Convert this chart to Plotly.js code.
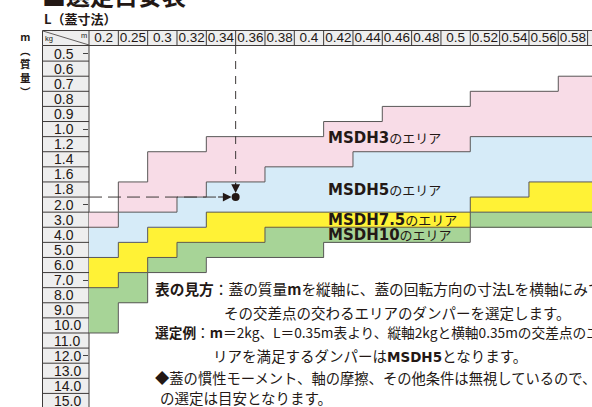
<!DOCTYPE html>
<html>
<head>
<meta charset="utf-8">
<script src="https://cdn.plot.ly/plotly-3.0.1.min.js"></script>
<style>
  body { margin: 0; background: #fff; }
  #plotArea { width: 592px; height: 407px; }
</style>
</head>
<body>
<div id="plotArea"></div>
<script>
// columns: lid size L (m), rows: lid mass m (kg)
var lengths = ['0.2', '0.25', '0.3', '0.32', '0.34', '0.36', '0.38', '0.4', '0.42', '0.44', '0.46', '0.48', '0.5', '0.52', '0.54', '0.56', '0.58', '0.6'];
var masses = ['0.5', '0.6', '0.7', '0.8', '0.9', '1.0', '1.2', '1.4', '1.6', '1.8', '2.0', '3.0', '4.0', '5.0', '6.0', '7.0', '8.0', '9.0', '10.0', '11.0', '12.0', '13.0', '14.0', '15.0'];

// lightest mass row where each damper's area starts, per column
var msdh3From  = ['3.0', '1.8', '1.4', '1.4', '1.2', '1.2', '1.2', '1.2', '1.0', '1.0', '0.9', '0.9', '0.9', '0.8', '0.8', '0.8', '0.7', '0.7'];
var msdh5From  = ['4.0', '3.0', '3.0', '2.0', '1.8', '1.8', '1.6', '1.6', '1.6', '1.4', '1.4', '1.4', '1.4', '1.2', '1.2', '1.2', '1.2', '1.2'];
var msdh75From = ['6.0', '5.0', '4.0', '4.0', '3.0', '3.0', '3.0', '3.0', '3.0', '3.0', '3.0', '3.0', '3.0', '2.0', '2.0', '1.8', '1.8', '1.8'];
var msdh10From = ['8.0', '7.0', '6.0', '5.0', '5.0', '5.0', '4.0', '4.0', '4.0', '4.0', '4.0', '4.0', '4.0', '3.0', '3.0', '3.0', '3.0', '3.0'];
// heaviest mass row of the MSDH10 area
var msdh10To   = ['10.0', '8.0', '6.0', '6.0', '5.0', '5.0', '5.0', '5.0', '4.0', '4.0', '4.0', '4.0', '4.0', '3.0', '3.0', '3.0', '3.0', '3.0'];

var models = ['MSDH3', 'MSDH5', 'MSDH7.5', 'MSDH10'];
var zoneColors = ['#f8dce7', '#d6ebf8', '#fff236', '#a7d497'];

// selection example: m = 2kg, L = 0.35m
var exampleL = 0.35;
var exampleM = '2.0';

var ink = '#231815';
var lineCol = '#3e3a39';
var narrow = 'Liberation Sans Narrow, Liberation Sans, sans-serif';

var colIdx = lengths.map((l, i) => i);
var rowIdx = masses.map((m, i) => i);
var row = m => masses.indexOf(m);

// cell -> zone number (1..4)
var z = rowIdx.map(r => colIdx.map(c => {
    if (r > row(msdh10To[c])) return null;
    if (r >= row(msdh10From[c])) return 4;
    if (r >= row(msdh75From[c])) return 3;
    if (r >= row(msdh5From[c])) return 2;
    if (r >= row(msdh3From[c])) return 1;
    return null;
}));

var traces = [{
    type: 'heatmap',
    x: colIdx,
    y: rowIdx,
    z: z,
    zmin: 1, zmax: 4,
    colorscale: [[0, zoneColors[0]], [1/3, zoneColors[1]], [2/3, zoneColors[2]], [1, zoneColors[3]]],
    showscale: false,
    hoverinfo: 'skip'
}];

// step outlines along the zone edges
function stepLine(edges) {
    var xs = [], ys = [];
    colIdx.forEach(c => {
        xs.push(c - 0.5, c + 0.5);
        ys.push(edges[c], edges[c]);
    });
    return {type: 'scatter', mode: 'lines', x: xs, y: ys, hoverinfo: 'skip',
            line: {color: '#595757', width: 1}};
}
[msdh3From, msdh5From, msdh75From, msdh10From].forEach(arr => {
    traces.push(stepLine(arr.map(m => row(m) - 0.5)));
});
traces.push(stepLine(msdh10To.map(m => row(m) + 0.5)));

// example point
var li = lengths.findIndex((l, i) => i < lengths.length - 1 && exampleL >= +l && exampleL <= +lengths[i + 1]);
var xDot = li + (exampleL - lengths[li]) / (lengths[li + 1] - lengths[li]);
var yDot = row(exampleM) - 0.5;

traces.push({type: 'scatter', mode: 'lines', x: [-0.5, xDot - 0.65], y: [yDot, yDot], hoverinfo: 'skip',
             line: {color: lineCol, width: 1, dash: '13px,6px'}});
traces.push({type: 'scatter', mode: 'lines', x: [xDot, xDot], y: [-0.5, yDot - 1.05], hoverinfo: 'skip',
             line: {color: lineCol, width: 1, dash: '8px,7px'}});
traces.push({type: 'scatter', mode: 'markers', x: [xDot], y: [yDot], hoverinfo: 'skip',
             marker: {color: ink, size: 8}});

// pixel helpers for things outside the plot area
var L0 = 89, T0 = 46, W = 503, H = 361;
var px = p => (p - L0) / W;
var py = p => (T0 + H - p) / H;

var shapes = [];
shapes.push({type: 'rect', layer: 'below', xref: 'paper', yref: 'paper', x0: px(42.5), x1: 1.02, y0: py(45.5), y1: py(30.5),
             fillcolor: '#eeeeee', line: {color: lineCol, width: 1}});
shapes.push({type: 'rect', layer: 'below', xref: 'paper', yref: 'paper', x0: px(42.5), x1: px(89), y0: py(412), y1: py(45.5),
             fillcolor: '#eeeeee', line: {color: lineCol, width: 1}});
shapes.push({type: 'line', xref: 'paper', yref: 'paper', x0: 0, x1: 0, y0: py(45.5), y1: py(30.5),
             line: {color: lineCol, width: 1}});
colIdx.slice(1).forEach(c => {
    shapes.push({type: 'line', xref: 'x', yref: 'paper', x0: c - 0.5, x1: c - 0.5, y0: py(45.5), y1: py(30.5),
                 line: {color: lineCol, width: 1}});
});
rowIdx.forEach(r => {
    shapes.push({type: 'line', xref: 'paper', yref: 'y', x0: px(42.5), x1: 0, y0: r + 0.5, y1: r + 0.5,
                 line: {color: lineCol, width: 1}});
});
shapes.push({type: 'line', xref: 'paper', yref: 'paper', x0: px(43), x1: px(89), y0: py(31), y1: py(45),
             line: {color: lineCol, width: 0.8}});

var cjk = 'Noto Sans CJK JP';
var annotations = [];
function note(text, x, y, size, extra) {
    annotations.push(Object.assign({text: text, xref: 'paper', yref: 'paper', x: px(x), y: py(y),
        xanchor: 'left', yanchor: 'middle', showarrow: false, borderpad: 0,
        font: {family: cjk, size: size, color: ink}}, extra || {}));
}

note('<b>■選定目安表</b>', 41, -6, 24);
note('<b>L（蓋寸法）</b>', 43, 18, 13);
// vertical axis caption, one glyph per line
note('<b>m<br>︵<br>質<br>量<br>︶</b>', 25, 64, 10.5, {xanchor: 'center'});
note('kg', 44, 39, 8, {font: {family: narrow, size: 7.5, color: ink}});
note('m', 80, 35.5, 8, {font: {family: narrow, size: 7.5, color: ink}});

masses.forEach((m, r) => {
    annotations.push({text: m, xref: 'paper', yref: 'y', x: px(53), y: r, xanchor: 'left', yanchor: 'middle',
        showarrow: false, borderpad: 0, font: {family: narrow, size: 14, color: ink}});
});

// area labels
var labelRows = [5.53, 9, 11, 12];
models.forEach((m, i) => {
    annotations.push({
        text: '<span style="font-family:DejaVu Sans;font-size:15px"><b>' + m + '</b></span>のエリア',
        xref: 'x', yref: 'y', x: 7.6, y: labelRows[i], xanchor: 'left', yanchor: 'middle',
        showarrow: false, borderpad: 0, font: {family: cjk, size: 13, color: ink}
    });
});

// arrows toward the example point
annotations.push({x: xDot, y: yDot, ax: xDot - 0.65, ay: yDot, xref: 'x', yref: 'y', axref: 'x', ayref: 'y',
    text: '', showarrow: true, arrowhead: 2, arrowsize: 1.6, arrowwidth: 1.1, arrowcolor: ink, standoff: 4});
annotations.push({x: xDot, y: yDot, ax: xDot, ay: yDot - 1.05, xref: 'x', yref: 'y', axref: 'x', ayref: 'y',
    text: '', showarrow: true, arrowhead: 2, arrowsize: 1.6, arrowwidth: 1.1, arrowcolor: ink, standoff: 4});

// notes under the table
var bold5 = '<span style="font-family:DejaVu Sans;font-size:13.5px"><b>MSDH5</b></span>';
note('<b>表の見方</b>：蓋の質量<b>m</b>を縦軸に、蓋の回転方向の寸法Lを横軸にみて、', 154, 288, 14.7);
note('その交差点の交わるエリアのダンパーを選定します。', 223, 312, 14.5);
note('<b>選定例</b>：<b>m</b>＝2kg、L＝0.35m表より、縦軸2kgと横軸0.35mの交差点のエ', 154, 332, 13.7);
note('リアを満足するダンパーは' + bold5 + 'となります。', 212, 355, 14.5);
note('◆蓋の慣性モーメント、軸の摩擦、その他条件は無視しているので、表', 154, 377, 14.3);
note('の選定は目安となります。', 159, 397, 14.5);

var layout = {
    width: 592, height: 407,
    margin: {l: L0, r: 0, t: T0, b: 0},
    paper_bgcolor: '#ffffff', plot_bgcolor: '#ffffff',
    showlegend: false,
    xaxis: {range: [-0.5, 16.65], side: 'top', tickvals: colIdx, ticktext: lengths, ticks: '',
            tickangle: 0, ticklabelstandoff: 0,
            showgrid: false, zeroline: false, showline: false, fixedrange: true,
            tickfont: {family: narrow, size: 13.5, color: ink}},
    yaxis: {range: [23.4, -0.5], showticklabels: false, showgrid: false, zeroline: false, fixedrange: true},
    shapes: shapes,
    annotations: annotations
};

Plotly.newPlot('plotArea', traces, layout, {displayModeBar: false, staticPlot: true});
</script>
</body>
</html>
